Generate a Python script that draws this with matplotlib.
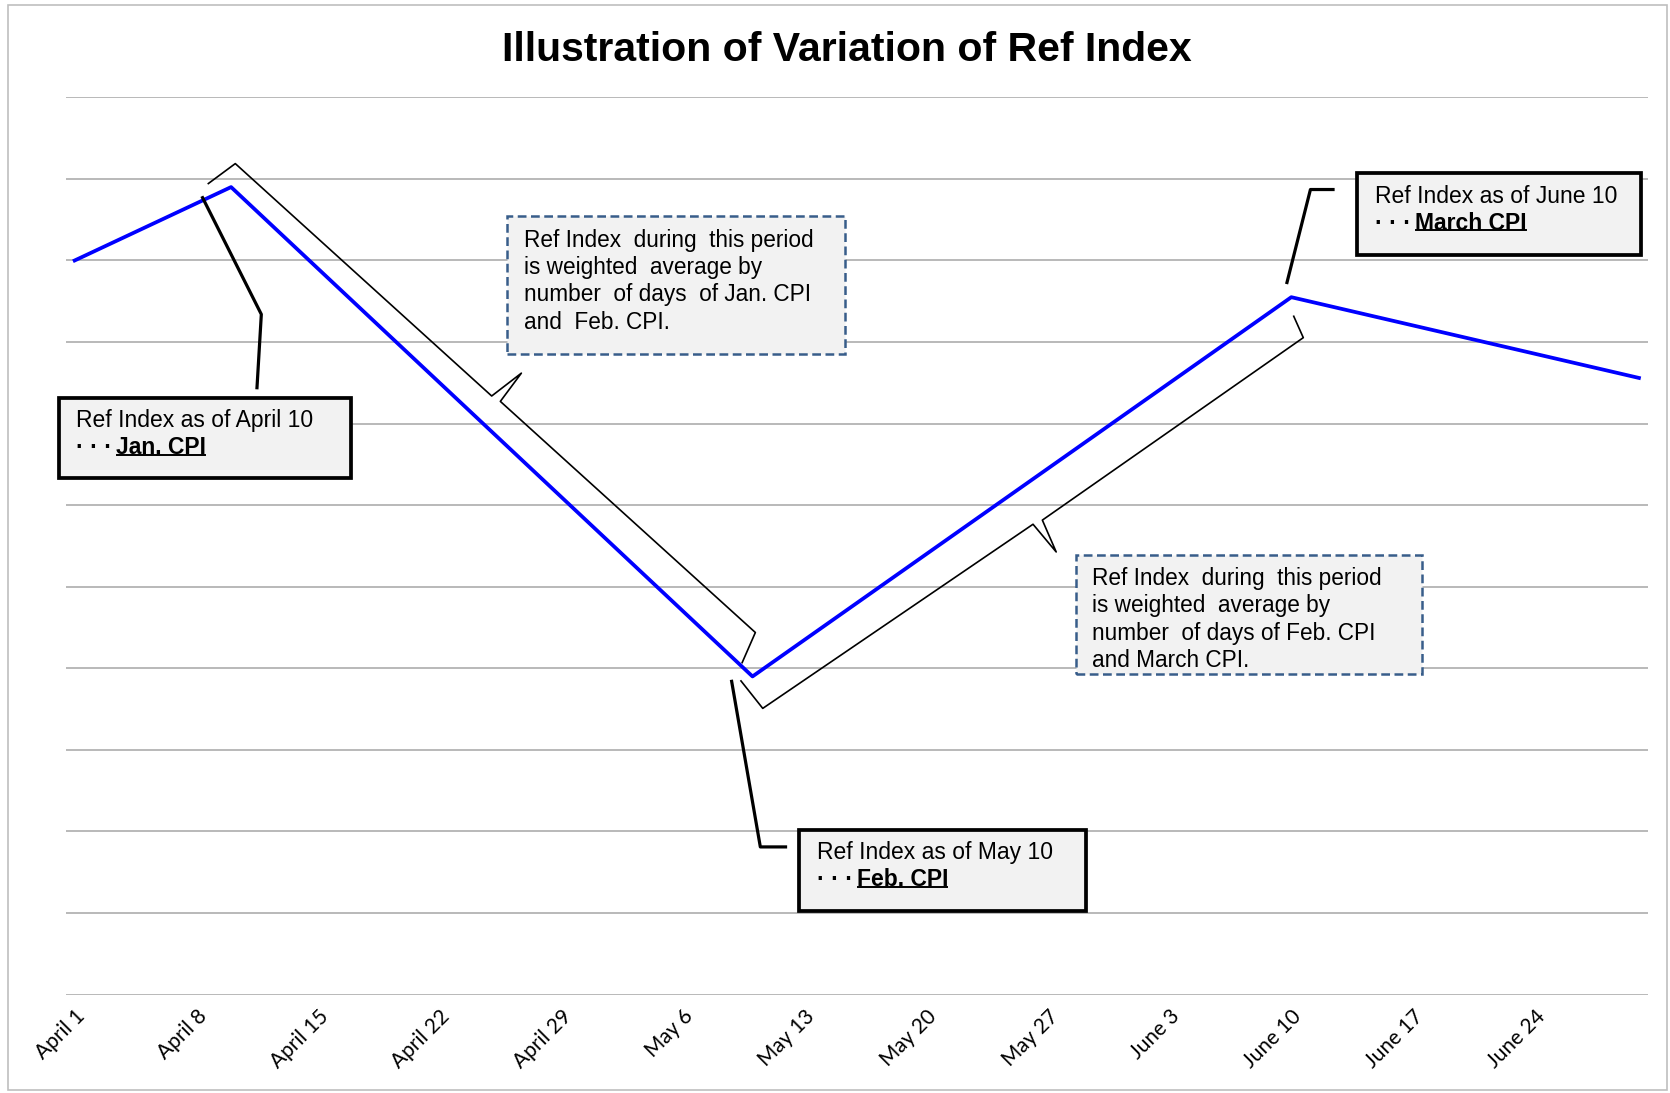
import numpy as np
import matplotlib.pyplot as plt
from matplotlib.patches import Rectangle

plt.rcParams['font.family'] = ['Liberation Sans', 'DejaVu Sans']

# ref index at its turning points (gridline units, no scale shown)
point_dates = ['2015-04-01', '2015-04-10', '2015-05-10', '2015-06-10', '2015-06-30']
ref_index = [9.0, 9.9, 3.9, 8.55, 7.56]

tick_labels = ['April 1', 'April 8', 'April 15', 'April 22', 'April 29', 'May 6',
               'May 13', 'May 20', 'May 27', 'June 3', 'June 10', 'June 17', 'June 24']

start = np.datetime64('2015-04-01')
days = (np.array(point_dates, dtype='datetime64[D]') - start).astype(int)
n_days = 91

# callout boxes: (x0, y0, x1, y1), first line, bold/underlined part, leader line
solid_boxes = [
    ((-0.92, 6.33, 15.9, 7.32), 'Ref Index as of April 10', 'Jan. CPI',
     [(7.36, 9.77), (10.74, 8.34), (10.49, 7.44)]),
    ((41.7, 1.03, 58.2, 2.02), 'Ref Index as of May 10', 'Feb. CPI',
     [(37.8, 3.84), (39.45, 1.81), (40.9, 1.81)]),
    ((73.8, 9.07, 90.1, 10.07), 'Ref Index as of June 10', 'March CPI',
     [(69.75, 8.73), (71.1, 9.87), (72.4, 9.87)]),
]

dashed_boxes = [
    ((24.9, 7.85, 44.3, 9.54), ['Ref Index  during  this period', 'is weighted  average by',
                                 'number  of days  of Jan. CPI', 'and  Feb. CPI.']),
    ((57.6, 3.93, 77.5, 5.39), ['Ref Index  during  this period', 'is weighted  average by',
                                 'number  of days of Feb. CPI', 'and March CPI.']),
]

fig = plt.figure(figsize=(16.7, 10.93), dpi=100)
ax = fig.add_axes([0.0395, 0.0897, 0.9471, 0.8216])

ax.plot(days, ref_index, color='#0000ff', lw=2.7, solid_joinstyle='round', zorder=3)

ax.set_xlim(-0.5, n_days - 0.5)
ax.set_ylim(-0.005, 11.005)
ax.set_yticks(range(12))
ax.set_yticklabels([])
ax.yaxis.grid(True, color='#a6a6a6', lw=1.1)
ax.set_axisbelow(True)
ax.set_xticks(np.arange(len(tick_labels)) * 7)
ax.set_xticklabels(tick_labels, rotation=45, ha='right', va='top',
                   rotation_mode='anchor', fontsize=15, family=['Lato', 'DejaVu Sans'])
ax.tick_params(length=0, pad=8)
for s in ax.spines.values():
    s.set_visible(False)

fig.text(0.507, 0.954, 'Illustration of Variation of Ref Index', ha='center', va='center',
         fontsize=29.5, fontweight='bold')

# outer frame
fig.patches.append(Rectangle((0.005, 0.003), 0.993, 0.992, transform=fig.transFigure,
                             fill=False, edgecolor='#bfbfbf', lw=1.2))

bold_texts = []
for (x0, y0, x1, y1), line1, bold, leader in solid_boxes:
    ax.add_patch(Rectangle((x0, y0), x1 - x0, y1 - y0, facecolor='#f2f2f2',
                           edgecolor='black', lw=2.7, clip_on=False, zorder=4))
    ax.text(x0 + 1.0, y1 - 0.28, line1, fontsize=16.5, va='center', ha='left', zorder=5)
    dots = ax.text(x0 + 1.0, y1 - 0.615, '\u00b7 \u00b7 \u00b7', fontsize=16.5,
                   fontweight='bold', va='center', ha='left', zorder=5)
    bt = ax.annotate(bold, xy=(1, 0.5), xycoords=dots, xytext=(3, 0),
                     textcoords='offset points', fontsize=16.5, fontweight='bold',
                     va='center', ha='left', zorder=5)
    bold_texts.append(bt)
    lx, ly = zip(*leader)
    ax.plot(lx, ly, color='black', lw=2.3, clip_on=False, zorder=4)

for (x0, y0, x1, y1), lines in dashed_boxes:
    ax.add_patch(Rectangle((x0, y0), x1 - x0, y1 - y0, facecolor='#f2f2f2',
                           edgecolor='#385d8a', lw=1.8, ls=(0, (3.5, 1.8)),
                           clip_on=False, zorder=4))
    for i, line in enumerate(lines):
        ax.text(x0 + 0.95, y1 - 0.29 - 0.336 * i, line, fontsize=16.3,
                va='center', ha='left', zorder=5)


def brace(p_start, p_end, spec, side):
    a = ax.transData.transform(p_start)
    b = ax.transData.transform(p_end)
    u = (b - a) / np.hypot(*(b - a))
    n = np.array([-u[1], u[0]]) * side
    pts = [(a if ref == 0 else b) + u * along + n * normal for ref, along, normal in spec]
    xy = ax.transData.inverted().transform(np.array(pts))
    ax.plot(xy[:, 0], xy[:, 1], color='black', lw=1.2, solid_joinstyle='round',
            clip_on=False, zorder=2)


brace((days[1], ref_index[1]), (days[2], ref_index[2]),
      [(0, -19, -13), (0, -13, 20), (0, 333, 26), (0, 339, 63), (0, 343, 28),
       (1, -28, 34), (1, -17, 3)], side=1)
brace((days[2], ref_index[2]), (days[3], ref_index[3]),
      [(0, -12, -3), (0, -10, 32), (0, 317, 37), (0, 320, 73), (0, 327, 39),
       (1, -13.5, 40), (1, -9, 17)], side=-1)

# underline the bold parts
fig.canvas.draw()
renderer = fig.canvas.get_renderer()
inv = ax.transData.inverted()
for bt in bold_texts:
    bb = bt.get_window_extent(renderer)
    yy = bb.y0 + 0.2 * bb.height
    (ux0, uy), (ux1, _) = inv.transform([(bb.x0 + 1, yy), (bb.x1 - 1, yy)])
    ax.plot([ux0, ux1], [uy, uy], color='black', lw=1.4, clip_on=False, zorder=5)

fig.savefig('out.png', dpi=100)
